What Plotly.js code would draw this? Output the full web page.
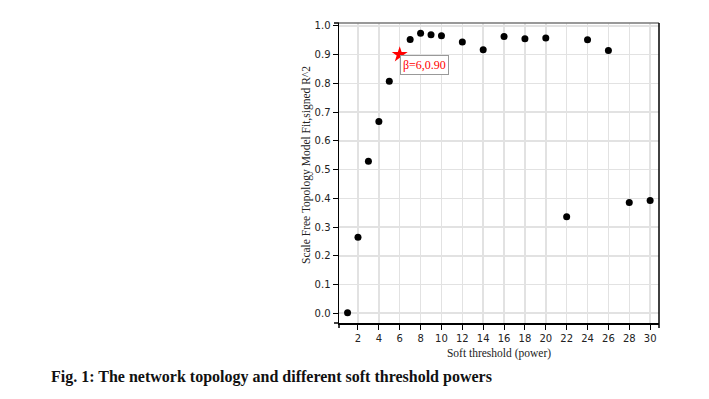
<!DOCTYPE html>
<html><head><meta charset="utf-8">
<script src="https://cdn.plot.ly/plotly-3.0.1.min.js"></script>
<style>body{margin:0;background:#fff}#c{width:709px;height:399px}</style>
</head><body><div id="c"></div>
<script>
const powers = [1,2,3,4,5,7,8,9,10,12,14,16,18,20,22,24,26,28,30];
const fitR2  = [0.002,0.264,0.529,0.667,0.807,0.953,0.974,0.969,0.966,0.944,0.917,0.963,0.955,0.958,0.336,0.952,0.914,0.385,0.392];
const chosenPower = [6];
const chosenFit = [0.90];
const chosenLabel = 'β=6,0.90';
const xTicks = [2,4,6,8,10,12,14,16,18,20,22,24,26,28,30];
const yTicks = [0,0.1,0.2,0.3,0.4,0.5,0.6,0.7,0.8,0.9,1.0];

const PW = 320, PH = 300;
const traces = [
  {x: powers, y: fitR2, type:'scatter', mode:'markers',
   marker:{color:'#000', size:7}, hoverinfo:'none'},
  {x: chosenPower, y: chosenFit, type:'scatter', mode:'markers',
   marker:{color:'#ff0000', size:12, symbol:'star'}, hoverinfo:'none'}
];
const outer = {color:'#000', width:1.5};
const layout = {
  width:709, height:399,
  margin:{l:339, r:50, t:23, b:76},
  paper_bgcolor:'#fff', plot_bgcolor:'#fff',
  showlegend:false,
  font:{family:'DejaVu Sans, sans-serif', size:10, color:'#222'},
  xaxis:{range:[0.18,30.85], tickvals:xTicks, ticktext:xTicks.map(String),
    showgrid:true, gridcolor:'#e2e2e2', gridwidth:1.5, zeroline:false,
    showline:true, linecolor:'#000', linewidth:1.5, ticks:'outside', ticklen:5, tickcolor:'#000',
    tickfont:{family:'DejaVu Sans, sans-serif', size:10, color:'#222'},
    title:{text:'Soft threshold (power)', font:{family:'Liberation Serif, serif', size:11.5, color:'#222'}, standoff:6}},
  yaxis:{range:[-0.034,1.01], tickvals:yTicks, ticktext:yTicks.map(v=>v.toFixed(1)),
    showgrid:true, gridcolor:'#e2e2e2', gridwidth:1.5, zeroline:false,
    showline:true, linecolor:'#000', linewidth:1.5, ticks:'outside', ticklen:5, tickcolor:'#000',
    tickfont:{family:'DejaVu Sans, sans-serif', size:10, color:'#222'}},
  shapes:[
    {type:'line', xref:'paper', yref:'paper', x0:0, x1:1, y0:1, y1:1, line:{color:'#777', width:1.5}},
    {type:'line', xref:'paper', yref:'paper', x0:1, x1:1, y0:0, y1:1, line:{color:'#000', width:1.5}},
    {type:'line', xref:'paper', yref:'paper', x0:-5/PW, x1:0, y0:1, y1:1, line:outer},
    {type:'line', xref:'paper', yref:'paper', x0:-5/PW, x1:0, y0:0, y1:0, line:outer},
    {type:'line', xref:'paper', yref:'paper', x0:1, x1:1, y0:-5/PH, y1:0, line:outer},
    {type:'line', xref:'paper', yref:'paper', x0:0, x1:0, y0:-5/PH, y1:0, line:outer}
  ],
  annotations:[
    {x: chosenPower[0], y: chosenFit[0], xref:'x', yref:'y', text: chosenLabel, showarrow:false,
     xanchor:'left', yanchor:'top', xshift:0, yshift:0,
     font:{family:'Liberation Serif, serif', size:12, color:'#ff0000'},
     bordercolor:'#999', borderwidth:1, borderpad:2, bgcolor:'#fff'},
    {x:0, y:0.5, xref:'paper', yref:'paper', text:'Scale Free Topology Model Fit,signed R^2',
     textangle:-90, showarrow:false, xanchor:'center', yanchor:'middle', xshift:-33, yshift:8,
     font:{family:'Liberation Serif, serif', size:11.5, color:'#222'}},
    {x:0, y:0, xref:'paper', yref:'paper', text:'<b>Fig. 1: The network topology and different soft threshold powers</b>',
     showarrow:false, xanchor:'left', yanchor:'middle', xshift:-290, yshift:-54,
     font:{family:'Liberation Serif, serif', size:16, color:'#111'}}
  ]
};
Plotly.newPlot('c', traces, layout, {staticPlot:true});
</script></body></html>
